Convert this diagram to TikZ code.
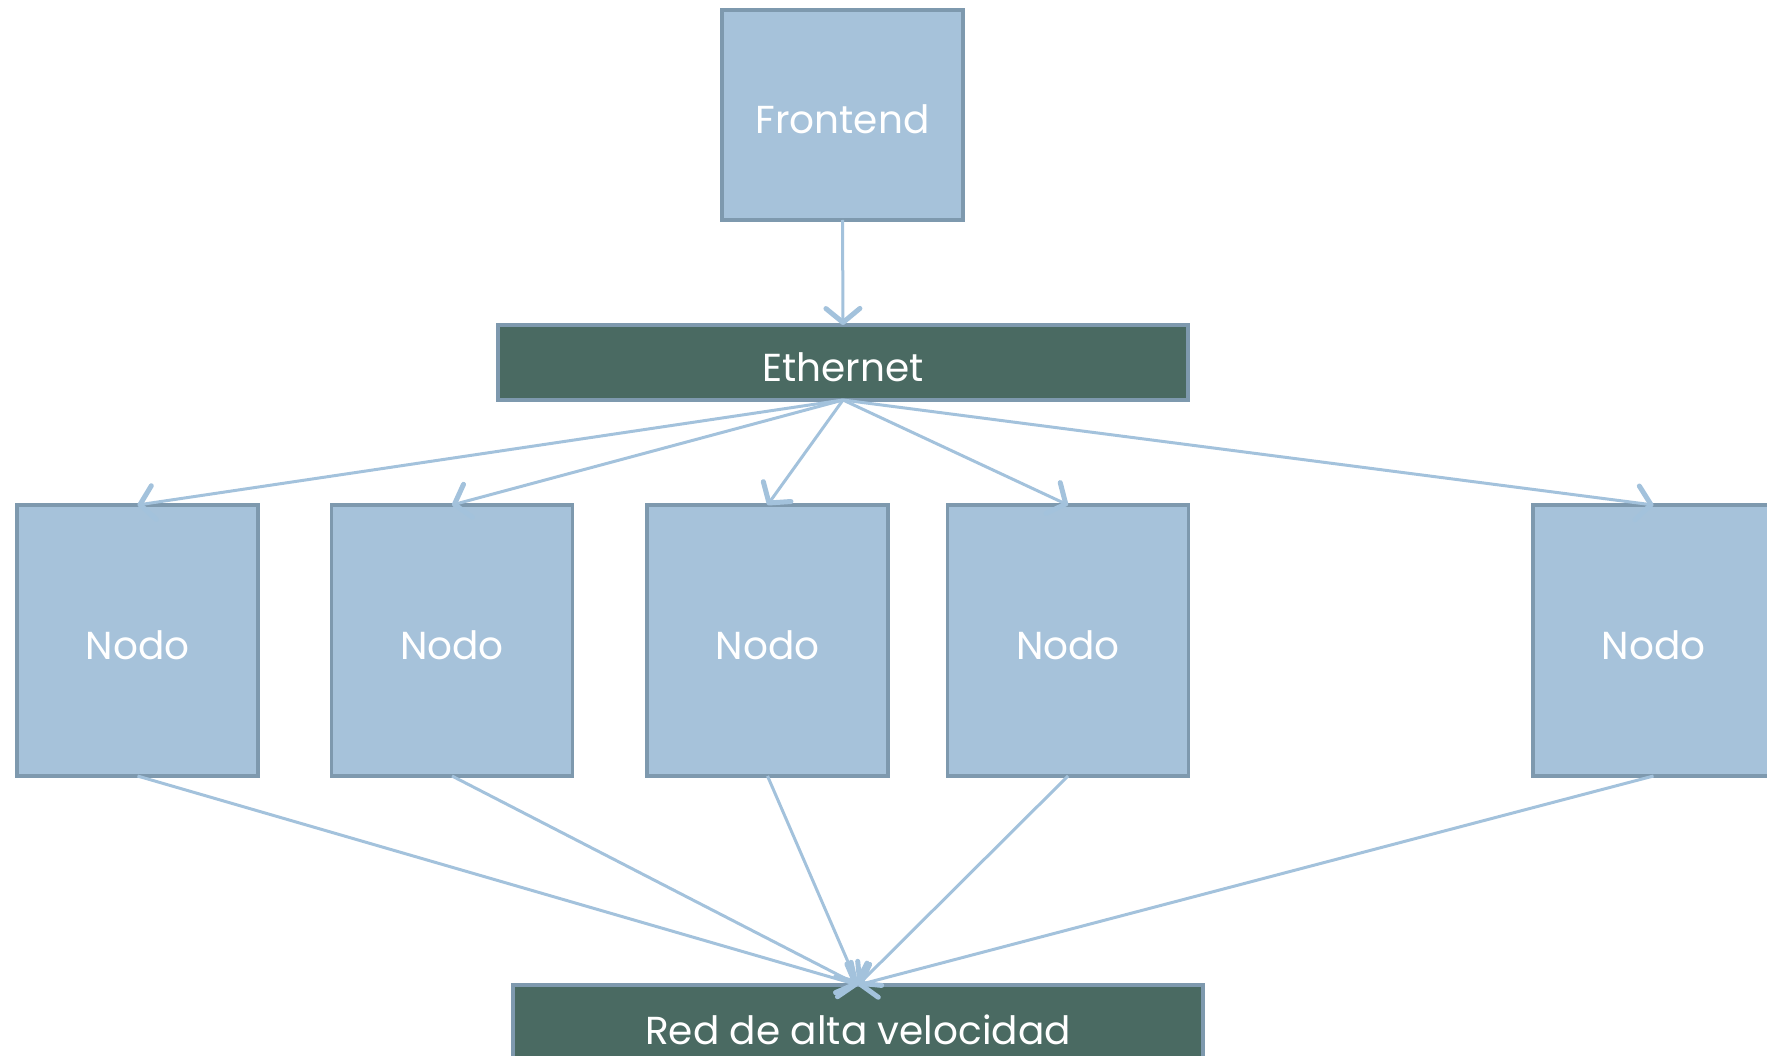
\documentclass[tikz,border=0pt]{standalone}
\usepackage{fontspec}
\setmainfont{Poppins}
\usetikzlibrary{arrows.meta}
\definecolor{boxfill}{RGB}{166,194,218}
\definecolor{boxline}{RGB}{126,153,174}
\definecolor{busfill}{RGB}{74,106,98}
\definecolor{wire}{RGB}{163,194,220}
\tikzset{
  label text/.style={text=white, font=\fontsize{39}{46}\selectfont,
    text height=38pt, text depth=0pt},
  unit/.style={rectangle, draw=boxline, fill=boxfill, line width=3.5pt,
    minimum width=241pt, minimum height=#1, inner sep=0pt, outer sep=0pt,
    label text},
  unit/.default=271pt,
  bus/.style={rectangle, draw=boxline, fill=busfill, line width=3.5pt,
    minimum width=690pt, minimum height=75pt, inner sep=0pt, outer sep=0pt,
    label text},
  link/.style={draw=wire, line width=3pt,
    -{Straight Barb[length=14pt, width=34pt, line width=5pt, round]}}
}
\begin{document}
\begin{tikzpicture}[x=1pt, y=-1pt]
  \useasboundingbox (0,0) rectangle (1767,1056);
  % front-end machine and the ethernet segment
  \node[unit=210pt] (front) at (842.5,115) {Frontend};
  \node[bus] (eth) at (843,362.5) {Ethernet};
  % compute nodes
  \node[unit] (n1) at (137.5,640.5) {Nodo};
  \node[unit] (n2) at (452,640.5) {Nodo};
  \node[unit] (n3) at (767.5,640.5) {Nodo};
  \node[unit] (n4) at (1068,640.5) {Nodo};
  \node[unit] (n5) at (1653.5,640.5) {Nodo};
  % high-speed interconnect
  \node[bus, minimum height=80pt] (fast) at (858,1025) {Red de alta velocidad};
  % connections
  \draw[link] (front.south) -- (eth.north);
  \foreach \n in {n1,n2,n3,n4,n5} {
    \draw[link] (eth.south) -- (\n.north);
    \draw[link] (\n.south) -- (fast.north);
  }
\end{tikzpicture}
\end{document}
